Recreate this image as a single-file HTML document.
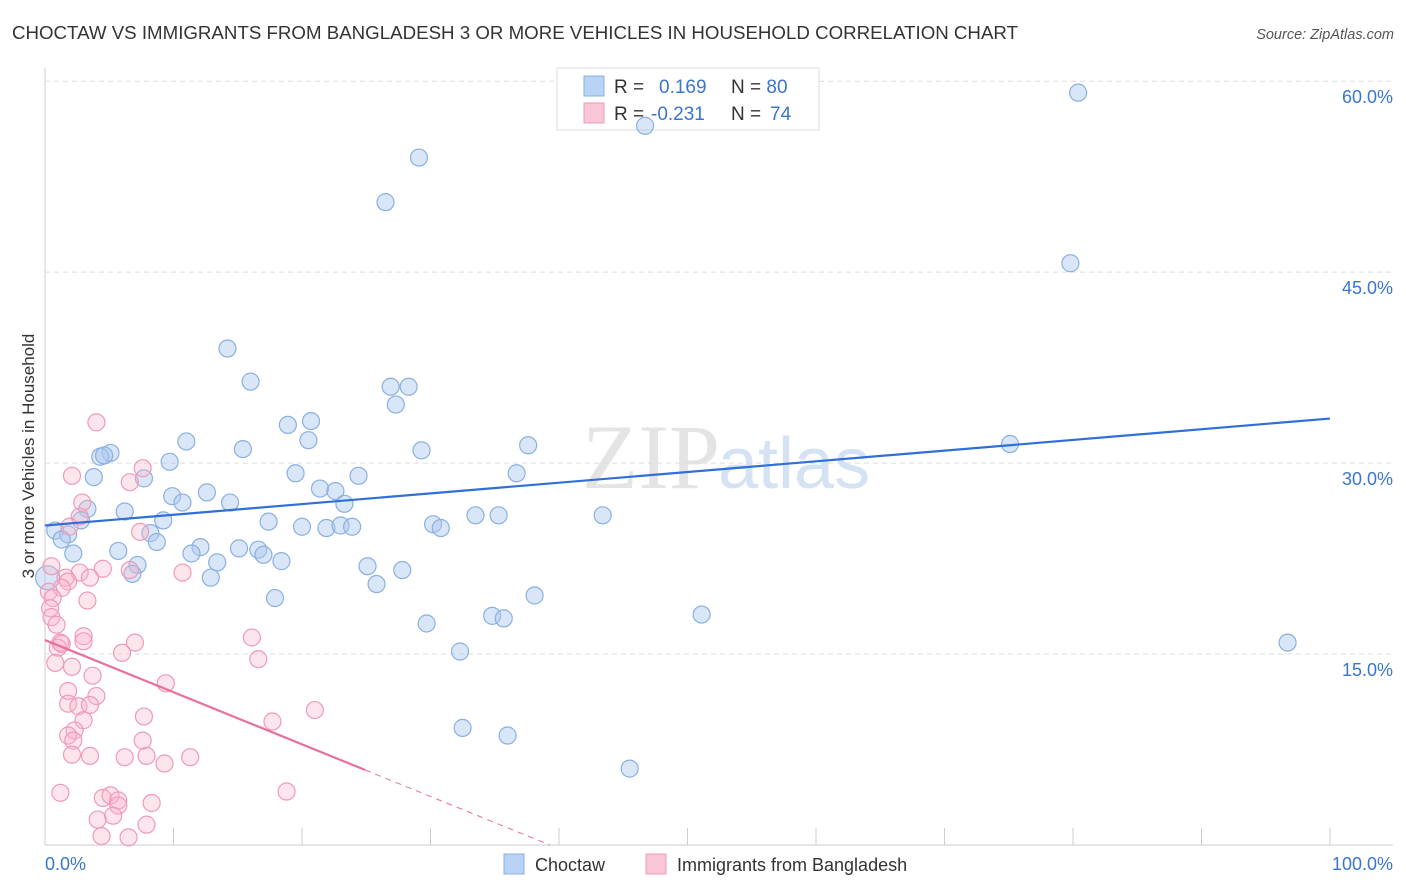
<!DOCTYPE html>
<html><head><meta charset="utf-8">
<style>
body{margin:0;background:#fff;font-family:"Liberation Sans",sans-serif;}
#wrap{position:relative;width:1406px;height:892px;overflow:hidden;}
</style></head>
<body>
<div id="wrap">
<svg id="svg" width="1406" height="892" xmlns="http://www.w3.org/2000/svg">
<text x="12" y="39" font-size="18" fill="#333" textLength="1006" lengthAdjust="spacingAndGlyphs">CHOCTAW VS IMMIGRANTS FROM BANGLADESH 3 OR MORE VEHICLES IN HOUSEHOLD CORRELATION CHART</text>
<text x="1394" y="39" font-size="14.5" fill="#555" font-style="italic" text-anchor="end">Source: ZipAtlas.com</text>
<text x="720" y="488" font-size="92" fill="#e4e4e4" text-anchor="end" font-family="Liberation Serif">ZIP</text>
<text x="718" y="488" font-size="72" fill="#d4e2f4">atlas</text>
<text transform="translate(34,456) rotate(-90)" font-size="17" fill="#333" text-anchor="middle">3 or more Vehicles in Household</text>
<g id="grid"></g>
<rect x="557" y="68" width="262" height="62" fill="#fff" stroke="#ddd"/>
<rect x="584" y="76" width="20" height="20" fill="#b8d3f5" stroke="#8ab0e0"/>
<text x="614" y="93" font-size="19" fill="#333">R = <tspan fill="#3a75d0" x="659">0.169</tspan><tspan x="731" fill="#333">N = </tspan><tspan fill="#3a75d0">80</tspan></text>
<rect x="584" y="103" width="20" height="20" fill="#f9c6d6" stroke="#ef9ab8"/>
<text x="614" y="120" font-size="19" fill="#333">R = <tspan fill="#3a75d0" x="651">-0.231</tspan><tspan x="731" fill="#333">N = </tspan><tspan fill="#3a75d0" x="770">74</tspan></text>
<g id="pts"></g><g id="lines"></g>
<text x="45" y="870" font-size="18" fill="#3a75d0">0.0%</text>
<text x="1393" y="870" font-size="18" fill="#3a75d0" text-anchor="end">100.0%</text>
<rect x="504" y="854" width="20" height="20" fill="#b8d3f5" stroke="#8ab0e0"/>
<text x="535" y="871" font-size="18" fill="#333">Choctaw</text>
<rect x="646" y="854" width="20" height="20" fill="#f9c6d6" stroke="#ef9ab8"/>
<text x="677" y="871" font-size="18" fill="#333">Immigrants from Bangladesh</text>
</svg>
</div>
<script>
const yTicks=[15,30,45,60];
const yTickLabels=["15.0%","30.0%","45.0%","60.0%"];
const xTicks=[0,10,20,30,40,50,60,70,80,90,100];
const choctawX=[80.4,46.7,29.1,26.5,79.8,14.2,16.0,26.9,28.3,27.3,20.7,18.9,20.5,11.0,37.6,15.4,29.3,75.1,5.1,4.3,4.6,9.7,19.5,36.7,24.4,3.8,7.7,21.4,22.6,12.6,9.9,10.7,14.4,23.3,3.3,6.2,33.5,35.3,43.4,2.8,9.2,17.4,30.2,30.8,20.0,21.9,23.0,23.9,0.8,1.8,1.3,8.2,8.7,12.1,15.1,16.6,5.7,2.2,11.4,17.0,13.4,18.4,7.2,25.1,27.8,6.8,12.9,25.8,0.2,38.1,17.9,34.8,35.7,51.1,29.7,96.7,32.3,32.5,36.0,45.5];
const choctawY=[59.1,56.5,54.0,50.5,45.7,39.0,36.4,36.0,36.0,34.6,33.3,33.0,31.8,31.7,31.4,31.1,31.0,31.5,30.8,30.5,30.6,30.1,29.2,29.2,29.0,28.9,28.8,28.0,27.8,27.7,27.4,26.9,26.9,26.8,26.4,26.2,25.9,25.9,25.9,25.5,25.5,25.4,25.2,24.9,25.0,24.9,25.1,25.0,24.7,24.4,24.0,24.5,23.8,23.4,23.3,23.2,23.1,22.9,22.9,22.8,22.2,22.3,22.0,21.9,21.6,21.3,21.0,20.5,21.0,19.6,19.4,18.0,17.8,18.1,17.4,15.9,15.2,9.2,8.6,6.0];
const bangX=[4.0,7.6,2.1,6.6,2.9,2.7,1.9,7.4,0.5,2.7,4.5,6.6,10.7,1.6,1.8,3.5,1.3,0.3,0.6,3.3,0.4,0.5,0.9,3.0,3.0,7.0,16.1,1.2,1.0,1.3,6.0,16.6,0.8,2.1,3.7,9.4,1.8,4.0,1.8,2.6,3.5,21.0,7.7,3.0,17.7,2.3,1.8,2.2,7.6,2.1,3.5,6.2,7.9,11.3,9.3,1.2,18.8,4.5,5.1,5.7,5.7,8.3,5.3,4.1,7.9,4.4,6.5];
const bangY=[33.2,29.6,29.0,28.5,26.9,25.8,25.0,24.6,21.9,21.4,21.7,21.6,21.4,21.0,20.7,21.0,20.2,19.9,19.4,19.2,18.6,17.9,17.3,16.4,16.0,15.9,16.3,15.9,15.5,15.8,15.1,14.6,14.3,14.0,13.3,12.7,12.1,11.7,11.1,10.9,11.0,10.6,10.1,9.8,9.7,9.0,8.6,8.2,8.2,7.1,7.0,6.9,7.0,6.9,6.4,4.1,4.2,3.7,3.9,3.5,3.1,3.3,2.3,2.0,1.6,0.7,0.6];
const choctawTrend=[25.1,33.5];
const bangTrend=[16.1,5.9,0];
const bangTrendX=[0,24.9,39.3];
const X=v=>45+v*12.85, Y=v=>845-v*12.73;
const NS="http://www.w3.org/2000/svg";
function mk(tag,attrs,parent){const e=document.createElementNS(NS,tag);for(const k in attrs)e.setAttribute(k,attrs[k]);document.getElementById(parent).appendChild(e);return e;}
let e=mk('line',{x1:45,y1:68,x2:45,y2:845,stroke:'#ccc'},'grid');


e=mk('line',{x1:45,y1:845,x2:1393,y2:845,stroke:'#ccc'},'grid');


yTicks.forEach((t,i)=>{
 let g=mk('line',{x1:45,y1:Y(t),x2:1393,y2:Y(t),stroke:'#ddd','stroke-dasharray':'5,4'},'grid');
 
 
 let tx=mk('text',{x:1393,y:Y(t)+22,'font-size':18,fill:'#3a75d0','text-anchor':'end'},'grid');
 tx.textContent=yTickLabels[i];
 
 
});
xTicks.forEach(t=>{
 let g=mk('line',{x1:X(t),y1:828,x2:X(t),y2:845,stroke:'#ccc'},'grid');
 
 
});
choctawX.forEach((x,i)=>{
 let c=mk('circle',{cx:X(x),cy:Y(choctawY[i]),r:i==68?12:8.5,fill:'rgba(170,200,240,0.45)',stroke:'#8ab0e0','stroke-width':1.2},'pts');
 
 
});
bangX.forEach((x,i)=>{
 let c=mk('circle',{cx:X(x),cy:Y(bangY[i]),r:8.5,fill:'rgba(248,180,200,0.35)',stroke:'#ef9ab8','stroke-width':1.2},'pts');
 
 
});
e=mk('line',{x1:X(0),y1:Y(choctawTrend[0]),x2:X(100),y2:Y(choctawTrend[1]),stroke:'#2f6fd6','stroke-width':2.2},'lines');


e=mk('line',{x1:X(bangTrendX[0]),y1:Y(bangTrend[0]),x2:X(bangTrendX[1]),y2:Y(bangTrend[1]),stroke:'#e8709a','stroke-width':2.2},'lines');


e=mk('line',{x1:X(bangTrendX[1]),y1:Y(bangTrend[1]),x2:X(bangTrendX[2]),y2:Y(bangTrend[2]),stroke:'#e8709a','stroke-width':1,'stroke-dasharray':'6,5'},'lines');


</script>
</body></html>
